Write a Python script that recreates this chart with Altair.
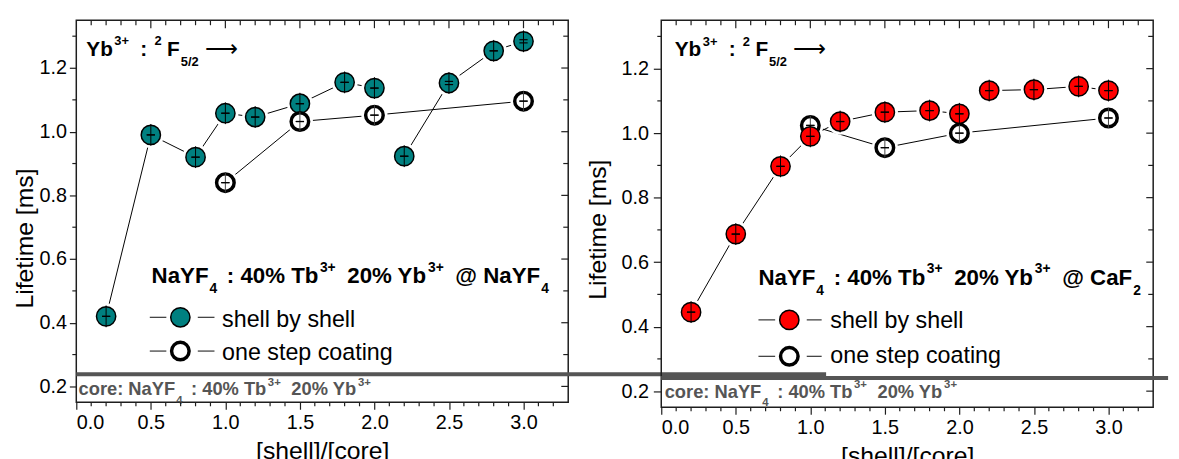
import altair as alt
import pandas as pd

# ---------------- data ----------------
ratio_shell = [0.2, 0.5, 0.8, 1.0, 1.2, 1.5, 1.8, 2.0, 2.2, 2.5, 2.8, 3.0]
segment_shell = [1, 1, 1, 1, 1, 1, 1, 1, 2, 2, 2, 2]
ratio_onestep = [1.0, 1.5, 2.0, 3.0]

left_shell = [0.42, 0.99, 0.92, 1.058, 1.046, 1.088, 1.155, 1.137, 0.923, 1.153, 1.254, 1.284]
left_shell_err = [0, 0, 0, 0, 0, 0, 0, 0, 0, 0.005, 0, 0.005]
left_onestep = [0.84, 1.032, 1.052, 1.096]
left_onestep_err = [0, 0, 0, 0]

right_shell = [0.445, 0.687, 0.897, 0.99, 1.036, 1.065, 1.07, 1.06, 1.132, 1.135, 1.145, 1.132]
right_shell_err = [0, 0, 0, 0, 0, 0, 0, 0, 0, 0, 0, 0]
right_onestep = [1.024, 0.955, 1.0, 1.047]
right_onestep_err = [0, 0, 0, 0]

x_major = [0.0, 0.5, 1.0, 1.5, 2.0, 2.5, 3.0]
y_major = [0.2, 0.4, 0.6, 0.8, 1.0, 1.2]
x_all = [round(0.1 * i, 1) for i in range(1, 33)]
y_all = [round(0.2 + 0.1 * i, 1) for i in range(0, 12)]

x_title = "[shell]/[core]"
y_title = "Lifetime [ms]"
legend_labels = ["shell by shell", "one step coating"]
yb_segments = [("Yb", "n"), ("3+", "sup"), (" : ", "n"), ("2", "sup"), ("F", "n"), ("5/2", "sub"), ("\u27f6", "arrow")]
left_label_segments = [("NaYF", "n"), ("4", "sub"), (" : 40% Tb", "n"), ("3+", "sup"), (" 20% Yb", "n"),
                       ("3+", "sup"), (" @ NaYF", "n"), ("4", "sub")]
right_label_segments = [("NaYF", "n"), ("4", "sub"), (" : 40% Tb", "n"), ("3+", "sup"), (" 20% Yb", "n"),
                        ("3+", "sup"), (" @ CaF", "n"), ("2", "sub")]
core_segments = [("core: NaYF", "n"), ("4", "sub"), (" : 40% Tb", "n"), ("3+", "sup"), (" 20% Yb", "n"), ("3+", "sup")]

# ---------------- styling ----------------
FONT = "Liberation Sans"
TEAL = "#008080"
RED = "#ff0000"
FRAME = "#1e1e1e"
GRAY = "#555555"
X_DOMAIN = [0.0, 3.3]
Y_DOMAIN = [0.15, 1.35]

BOLD_W = {" ": 278, "%": 889, "+": 584, "/": 278, ":": 333, "@": 975, "C": 722, "F": 611, "N": 722,
          "T": 611, "Y": 667, "a": 556, "b": 611, "c": 556, "e": 556, "o": 611, "r": 389}
for d in "0123456789":
    BOLD_W[d] = 556


def rich_rows(segments, x0, y0, size, pxx, pxy, color):
    rows = []
    off = 0.0
    for txt, kind in segments:
        weight = "bold"
        if kind == "sup":
            fs, dy = size * 0.62, -0.52 * size
            off += 1.5
        elif kind == "sub":
            fs, dy = size * 0.62, 0.45 * size
            off += 1
        elif kind == "arrow":
            fs, dy = size * 1.1, 0.0
            off += 3
            weight = "normal"
        else:
            fs, dy = size, 0.0
        lead = len(txt) - len(txt.lstrip(" "))
        lead_w = lead * BOLD_W[" "] / 1000 * fs
        rows.append(dict(x=x0 + (off + lead_w) / pxx, y=y0 - dy / pxy, t=txt.strip(" "), fs=fs, c=color,
                         w=weight))
        off += sum(BOLD_W.get(ch, 600) for ch in txt) / 1000 * fs
        if kind == "sup":
            off += 5.5
        elif kind == "sub":
            off += 3.5
    return rows


VPATH = "M0,-1L0,1"
HPATH = "M-0.38,0L0.38,0"


def make_panel(W, H, shell_y, shell_err, one_y, one_err, fill, shell_on_top, label_segments,
               label_xy, yb_xy, core_xy, gray_line, legend, tick_len, label_pad, title_x, title_y):
    xs = alt.Scale(domain=X_DOMAIN, nice=False, zero=False)
    ys = alt.Scale(domain=Y_DOMAIN, nice=False, zero=False)
    pxx = W / (X_DOMAIN[1] - X_DOMAIN[0])
    pxy = H / (Y_DOMAIN[1] - Y_DOMAIN[0])

    shell = pd.DataFrame({"x": ratio_shell, "y": shell_y, "seg": segment_shell, "err": shell_err})
    one = pd.DataFrame({"x": ratio_onestep, "y": one_y, "seg": [1] * len(one_y), "err": one_err})
    both = pd.concat([shell, one], ignore_index=True)

    def caps(df):
        return pd.DataFrame({"x": list(df.x) * 2, "yc": list(df.y + df.err) + list(df.y - df.err)})

    xaxis = alt.Axis(values=x_major, format=".1f", title=x_title, grid=False, domain=False,
                     tickSize=7, tickColor=FRAME, tickWidth=1.2, labelFontSize=20, labelPadding=3,
                     labelColor="black", labelFont=FONT, titleFont=FONT, titleFontSize=25,
                     titleFontWeight="normal", titleColor="black", titlePadding=7)
    yaxis = alt.Axis(values=y_major, format=".1f", title=y_title, grid=False, domain=False,
                     tickSize=tick_len, tickColor=FRAME, tickWidth=1.2, labelFontSize=20,
                     labelPadding=label_pad, labelColor="black", labelFont=FONT, titleFont=FONT,
                     titleFontSize=25, titleFontWeight="normal", titleColor="black",
                     titleX=title_x, titleY=title_y, titleBaseline="alphabetic")

    X = lambda f="x": alt.X(f"{f}:Q", scale=xs, axis=xaxis)
    Y = lambda f="y": alt.Y(f"{f}:Q", scale=ys, axis=yaxis)

    layers = []
    # connecting lines
    layers.append(alt.Chart(shell).mark_line(color="black", strokeWidth=1).encode(x=X(), y=Y(), detail="seg:N"))
    layers.append(alt.Chart(one).mark_line(color="black", strokeWidth=1).encode(x=X(), y=Y()))
    # white gaps around symbols
    layers.append(alt.Chart(both).mark_point(shape="circle", filled=True, fill="white", strokeWidth=0,
                                             size=700, opacity=1).encode(x=X(), y=Y()))

    def filled_layers():
        return [
            alt.Chart(shell).mark_point(shape="circle", filled=True, fill=fill, stroke="black",
                                        strokeWidth=1.5, size=380, opacity=1).encode(x=X(), y=Y()),
            alt.Chart(shell).mark_point(shape=VPATH, filled=False, color="black", strokeWidth=1,
                                        size=484, opacity=1).encode(x=X(), y=Y()),
            alt.Chart(caps(shell)).mark_point(shape=HPATH, filled=False, color="black", strokeWidth=1.2,
                                              size=484, opacity=1).encode(x=X(), y=Y("yc")),
        ]

    def open_layers():
        return [
            alt.Chart(one).mark_point(shape="circle", filled=True, fill="white", stroke="black",
                                      strokeWidth=3.5, size=314, opacity=1).encode(x=X(), y=Y()),
            alt.Chart(one).mark_point(shape=VPATH, filled=False, color="#444", strokeWidth=1,
                                      size=400, opacity=1).encode(x=X(), y=Y()),
            alt.Chart(caps(one)).mark_point(shape=HPATH, filled=False, color="black", strokeWidth=1.2,
                                            size=484, opacity=1).encode(x=X(), y=Y("yc")),
        ]

    if shell_on_top:
        layers += open_layers() + filled_layers()
    else:
        layers += filled_layers() + open_layers()

    # separator line
    gl = pd.DataFrame({"x": [gray_line[0]], "x2": [gray_line[1]], "y": [gray_line[2]]})
    layers.append(alt.Chart(gl).mark_rule(color=GRAY, strokeWidth=4).encode(x=X(), x2="x2:Q", y=Y()))

    # bold annotations (rich text built from segments)
    rows = []
    rows += rich_rows(yb_segments, yb_xy[0], yb_xy[1], 21, pxx, pxy, "black")
    rows += rich_rows(label_segments, label_xy[0], label_xy[1], 22.5, pxx, pxy, "black")
    rows += rich_rows(core_segments, core_xy[0], core_xy[1], 18.5, pxx, pxy, GRAY)
    rdf = pd.DataFrame(rows)
    for weight in ["bold", "normal"]:
        sub = rdf[rdf.w == weight]
        if len(sub):
            layers.append(alt.Chart(sub).mark_text(
                align="left", baseline="alphabetic", fontWeight=weight, font=FONT).encode(
                x=X(), y=Y(), text="t:N", size=alt.Size("fs:Q", scale=None),
                color=alt.Color("c:N", scale=None)))

    # legend
    lg = legend
    dashes = pd.DataFrame({"x": [lg["d1"][0], lg["d2"][0], lg["d1"][0], lg["d2"][0]],
                           "x2": [lg["d1"][1], lg["d2"][1], lg["d1"][1], lg["d2"][1]],
                           "y": [lg["rows"][0], lg["rows"][0], lg["rows"][1], lg["rows"][1]]})
    layers.append(alt.Chart(dashes).mark_rule(color="#333", strokeWidth=1.2).encode(x=X(), x2="x2:Q", y=Y()))
    r1 = pd.DataFrame({"x": [lg["cx"]], "y": [lg["rows"][0]]})
    r2 = pd.DataFrame({"x": [lg["cx"]], "y": [lg["rows"][1]]})
    layers.append(alt.Chart(r1).mark_point(shape="circle", filled=True, fill=fill, stroke="black",
                                           strokeWidth=1.5, size=380, opacity=1).encode(x=X(), y=Y()))
    layers.append(alt.Chart(r2).mark_point(shape="circle", filled=True, fill="white", stroke="black",
                                           strokeWidth=3.5, size=314, opacity=1).encode(x=X(), y=Y()))
    lt = pd.DataFrame({"x": [lg["tx"], lg["tx"]], "y": list(lg["base"]), "t": legend_labels})
    layers.append(alt.Chart(lt).mark_text(align="left", baseline="alphabetic", fontSize=23.5, font=FONT,
                                          color="black").encode(x=X(), y=Y(), text="t:N"))

    # minor / mirrored ticks
    minor_x = [v for v in x_all if v not in x_major]
    minor_y = [v for v in y_all if v not in y_major]
    tx_major = pd.DataFrame({"x": x_major[1:]})
    tx_minor = pd.DataFrame({"x": minor_x})
    ty_major = pd.DataFrame({"y": y_major})
    ty_minor = pd.DataFrame({"y": minor_y})
    tk = dict(color=FRAME, strokeWidth=1.2)
    layers.append(alt.Chart(tx_minor).mark_rule(**tk).encode(x=X(), y=alt.value(H), y2=alt.value(H + 4)))
    layers.append(alt.Chart(tx_minor).mark_rule(**tk).encode(x=X(), y=alt.value(0), y2=alt.value(5)))
    layers.append(alt.Chart(tx_major).mark_rule(**tk).encode(x=X(), y=alt.value(0), y2=alt.value(8)))
    layers.append(alt.Chart(ty_minor).mark_rule(**tk).encode(y=Y(), x=alt.value(0), x2=alt.value(-4)))
    layers.append(alt.Chart(ty_minor).mark_rule(**tk).encode(y=Y(), x=alt.value(W), x2=alt.value(W - 5)))
    layers.append(alt.Chart(ty_major).mark_rule(**tk).encode(y=Y(), x=alt.value(W), x2=alt.value(W - 7)))

    return alt.layer(*layers).properties(width=W, height=H)


left = make_panel(
    497, 386, left_shell, left_shell_err, left_onestep, left_onestep_err, TEAL, False,
    left_label_segments, (0.505, 0.524), (0.067, 1.237), (0.015, 0.172), (0.0, 5.03, 0.238),
    dict(d1=(0.493, 0.604), d2=(0.815, 0.927), cx=0.698, rows=(0.417, 0.311), tx=0.978, base=(0.388, 0.283)),
    7, 3, -44, 220)

right = make_panel(
    497, 391, right_shell, right_shell_err, right_onestep, right_onestep_err, RED, True,
    right_label_segments, (0.652, 0.529), (0.09, 1.238), (0.023, 0.179), (0.0, 3.40, 0.241),
    dict(d1=(0.652, 0.764), d2=(0.976, 1.076), cx=0.859, rows=(0.421, 0.308), tx=1.134, base=(0.396, 0.287)),
    8, 5, -56, 211)

chart = alt.hconcat(left, right, spacing=94, bounds="flush").properties(
    padding={"left": 4, "top": 8, "right": 0, "bottom": 0}
).configure(font=FONT, background="white").configure_view(stroke=FRAME, strokeWidth=1.5)

chart.save("out.html", embed_options={"renderer": "svg", "actions": False})
